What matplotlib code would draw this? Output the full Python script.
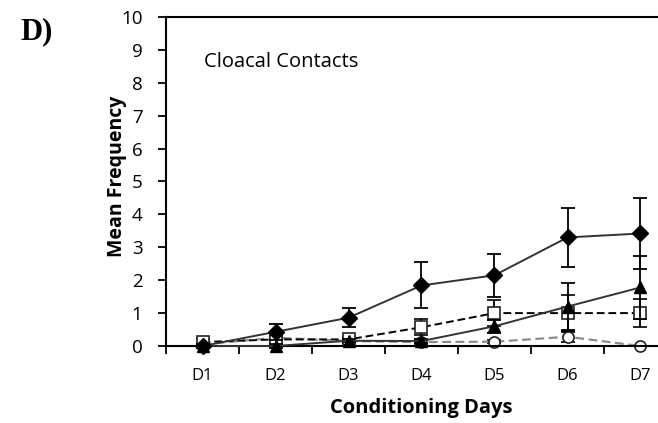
import numpy as np
import matplotlib
matplotlib.use('Agg')
import matplotlib.pyplot as plt

days = ['D1', 'D2', 'D3', 'D4', 'D5', 'D6', 'D7']

diamond_mean = [0.0, 0.43, 0.86, 1.84, 2.15, 3.30, 3.42]
diamond_err = [0.05, 0.25, 0.29, 0.70, 0.65, 0.90, 1.08]

triangle_mean = [0.0, 0.0, 0.16, 0.15, 0.60, 1.20, 1.78]
triangle_err = [0.05, 0.05, 0.05, 0.05, 0.20, 0.70, 0.95]

square_mean = [0.12, 0.20, 0.20, 0.57, 1.00, 1.00, 1.00]
square_err = [0.10, 0.10, 0.08, 0.25, 0.40, 0.55, 0.42]

circle_mean = [0.05, 0.25, 0.15, 0.12, 0.13, 0.28, 0.0]
circle_err = [0.03, 0.05, 0.05, 0.05, 0.05, 0.15, 0.0]

plt.rcParams['font.family'] = ['Open Sans', 'DejaVu Sans']

fig = plt.figure(figsize=(6.58, 4.23), dpi=100)
ax = fig.add_axes([166 / 658, 77 / 423, 511 / 658, 329 / 423])

x = np.arange(len(days))
ecfg = dict(ecolor='black', elinewidth=1.3, capsize=5, capthick=1.3)

series = [
    (circle_mean, circle_err, dict(color='#8c8c8c', ls=(0, (4, 2)), lw=1.6, marker='o',
                                   mfc='white', mec='#222222', mew=1.2, zorder=2)),
    (square_mean, square_err, dict(color='black', ls=(0, (4, 2)), lw=1.4, marker='s',
                                   mfc='white', mec='#222222', mew=1.2, zorder=3)),
    (triangle_mean, triangle_err, dict(color='#333333', ls='-', lw=1.4, marker='^',
                                       mfc='black', mec='black', zorder=4)),
    (diamond_mean, diamond_err, dict(color='#333333', ls='-', lw=1.4, marker='D',
                                     mfc='black', mec='black', zorder=5)),
]
for mean, err, style in series:
    cont = ax.errorbar(x, mean, yerr=err, ms=8, **style, **ecfg)
    for art in cont.lines[0:1] + tuple(cont.lines[1]) + tuple(cont.lines[2]):
        art.set_clip_on(False)

ax.set_xlim(-0.5, 6.5)
ax.set_ylim(0, 10)
ax.set_yticks(range(0, 11))
ax.set_xticks(x)
ax.set_xticklabels(days)
ax.set_xticks(np.arange(-0.5, 7, 1), minor=True)
ax.tick_params(axis='x', which='major', length=0, labelsize=12, pad=16)
ax.tick_params(axis='x', which='minor', length=6, width=1.3, direction='out')
ax.tick_params(axis='y', length=6, width=1.3, direction='out', labelsize=13.5, pad=11)

for s in ['left', 'bottom', 'top']:
    ax.spines[s].set_linewidth(1.5)
ax.spines['right'].set_visible(False)

ax.set_xlabel('Conditioning Days', fontsize=14.5, fontweight='bold', labelpad=10)
ax.set_ylabel('Mean Frequency', fontsize=14, fontweight='bold')
ax.yaxis.set_label_coords(-0.076, 0.515)

ax.text(0.02, 8.63, 'Cloacal Contacts', fontsize=14.5, ha='left', va='center')

fig.text(20 / 658, 1 - 32 / 423, 'D)', fontsize=22, fontweight='bold',
         family='Liberation Serif', ha='left', va='center')

fig.savefig('out.png', dpi=100)
